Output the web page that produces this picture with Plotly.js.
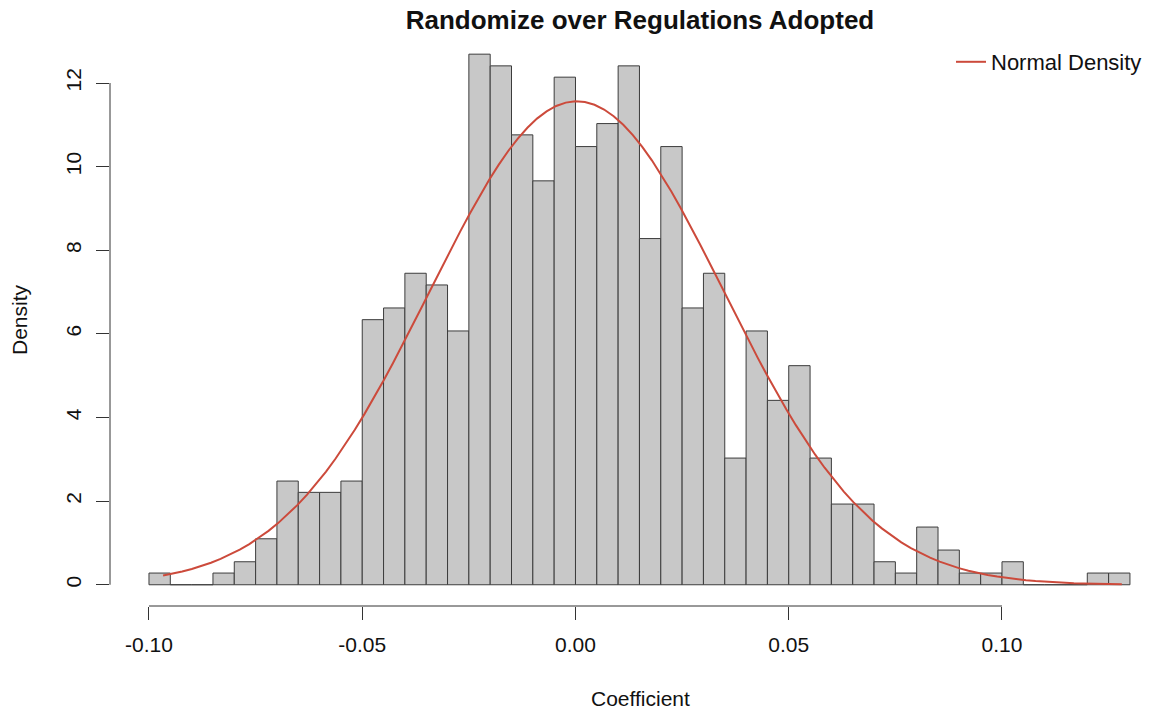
<!DOCTYPE html>
<html>
<head>
<meta charset="utf-8">
<script src="https://cdn.plot.ly/plotly-3.0.1.min.js"></script>
<style>html,body{margin:0;padding:0;background:#fff;}#chart{width:1149px;height:715px;}</style>
</head>
<body>
<div id="chart"></div>
<script>
// Histogram bins (left edges) and densities
const binLeft = [-0.100,-0.095,-0.090,-0.085,-0.080,-0.075,-0.070,-0.065,-0.060,-0.055,
                 -0.050,-0.045,-0.040,-0.035,-0.030,-0.025,-0.020,-0.015,-0.010,-0.005,
                  0.000, 0.005, 0.010, 0.015, 0.020, 0.025, 0.030, 0.035, 0.040, 0.045,
                  0.050, 0.055, 0.060, 0.065, 0.070, 0.075, 0.080, 0.085, 0.090, 0.095,
                  0.100, 0.105, 0.110, 0.115, 0.120, 0.125];
const density = [0.28,0.00,0.00,0.28,0.55,1.10,2.48,2.21,2.21,2.48,
                 6.34,6.62,7.45,7.17,6.07,12.69,12.41,10.76,9.66,12.14,
                 10.48,11.03,12.41,8.28,10.48,6.62,7.45,3.03,6.07,4.41,
                 5.24,3.03,1.93,1.93,0.55,0.28,1.38,0.83,0.28,0.28,
                 0.55,0.00,0.00,0.00,0.28,0.28];
const binWidth = 0.005;

// Fitted normal density parameters
const normMean = 0.0003;
const normSd = 0.0345;
const curveFrom = -0.0967;
const curveTo = 0.1281;

const xTicks = [-0.10,-0.05,0.00,0.05,0.10];
const xTickText = ["-0.10","-0.05","0.00","0.05","0.10"];
const yTicks = [0,2,4,6,8,10,12];
const yTickText = ["0","2","4","6","8","10","12"];

const binCenter = binLeft.map(v => v + binWidth/2);
const nPts = 101;
const cx = [], cy = [];
for (let i = 0; i < nPts; i++) {
  const x = curveFrom + (curveTo - curveFrom) * i / (nPts - 1);
  cx.push(x);
  cy.push(Math.exp(-0.5*Math.pow((x-normMean)/normSd,2)) / (normSd*Math.sqrt(2*Math.PI)));
}

const FONT = "Liberation Sans, Arial, Helvetica, sans-serif";
const PL = 110, PR = 4, PT = 32, PB = 109;
const PW = 1149 - PL - PR, PH = 715 - PT - PB;

const traces = [
  {
    type: "bar", x: binCenter, y: density, width: binWidth,
    marker: {color: "#c8c8c8", line: {color: "#3c3c3c", width: 1}},
    showlegend: false, hoverinfo: "x+y"
  },
  {
    type: "scatter", mode: "lines", x: cx, y: cy, name: "Normal Density",
    line: {color: "#cc4a3b", width: 2}, hoverinfo: "skip"
  }
];

const layout = {
  width: 1149, height: 715,
  margin: {l: PL, r: PR, t: PT, b: PB, autoexpand: false},
  paper_bgcolor: "#fff", plot_bgcolor: "#fff",
  font: {family: FONT, size: 21, color: "#111"},
  bargap: 0,
  title: {text: "<b>Randomize over Regulations Adopted</b>", font: {family: FONT, size: 26, color: "#111"},
          xref: "container", x: 640/1149, xanchor: "center", yref: "container", y: 1 - 20/715, yanchor: "middle"},
  xaxis: {
    range: [-0.10914, 0.13353], autorange: false, automargin: false,
    tickvals: xTicks, ticktext: xTickText, ticks: "outside", ticklen: 13, tickwidth: 1, tickcolor: "#333",
    showgrid: false, zeroline: false, showline: false,
    tickfont: {family: FONT, size: 21, color: "#111"}, ticklabelstandoff: 7
  },
  yaxis: {
    range: [-0.508, 13.22], autorange: false, automargin: false,
    tickvals: yTicks, ticktext: yTickText, ticks: "outside", ticklen: 13, tickwidth: 1, tickcolor: "#333",
    showgrid: false, zeroline: false, showline: false, tickangle: -90,
    tickfont: {family: FONT, size: 21, color: "#111"}, ticklabelstandoff: 7
  },
  shapes: [
    {type: "line", xref: "x", yref: "paper", x0: xTicks[0], x1: xTicks[xTicks.length-1], y0: 0, y1: 0,
     line: {color: "#333", width: 1}},
    {type: "line", xref: "paper", yref: "y", x0: 0, x1: 0, y0: yTicks[0], y1: yTicks[yTicks.length-1],
     line: {color: "#333", width: 1}}
  ],
  annotations: [
    {text: "Coefficient", xref: "paper", yref: "paper", x: (640-PL)/PW, y: (PT+PH-698)/PH,
     xanchor: "center", yanchor: "middle", showarrow: false, font: {family: FONT, size: 21, color: "#111"}},
    {text: "Density", xref: "paper", yref: "paper", x: (19-PL)/PW, y: (PT+PH-320)/PH,
     xanchor: "center", yanchor: "middle", textangle: -90, showarrow: false, font: {family: FONT, size: 21, color: "#111"}}
  ],
  legend: {xref: "paper", yref: "paper", x: (951-PL)/PW, y: (PT+PH-62)/PH, xanchor: "left", yanchor: "middle",
           bgcolor: "rgba(0,0,0,0)", borderwidth: 0, font: {family: FONT, size: 22, color: "#111"}},
  showlegend: true
};

Plotly.newPlot("chart", traces, layout, {displayModeBar: false, staticPlot: true});
</script>
</body>
</html>
